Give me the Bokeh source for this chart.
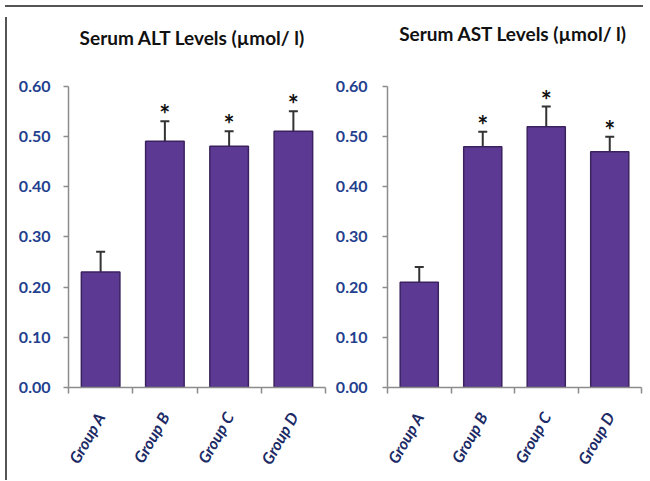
import math
from bokeh.plotting import figure
from bokeh.models import (ColumnDataSource, Range1d, LinearAxis, Div, Label,
                          FixedTicker, NumeralTickFormatter, Whisker, TeeHead)
from bokeh.layouts import row, column
from bokeh.embed import file_html
from bokeh.resources import INLINE
from bokeh.core.properties import value

groups = ["Group A", "Group B", "Group C", "Group D"]
alt_mean = [0.23, 0.49, 0.48, 0.51]
alt_err = [0.04, 0.04, 0.03, 0.04]
alt_sig = ["", "*", "*", "*"]
ast_mean = [0.21, 0.48, 0.52, 0.47]
ast_err = [0.03, 0.03, 0.04, 0.03]
ast_sig = ["", "*", "*", "*"]
y_ticks = [0.0, 0.1, 0.2, 0.3, 0.4, 0.5, 0.6]
titles = ["Serum ALT Levels (\u00b5mol/ l)", "Serum AST Levels (\u00b5mol/ l)"]

FONT = "Lato"
TICK_COLOR = "#23408E"
GROUP_COLOR = "#1C2A66"
AXIS_COLOR = "#8C8C8C"

x_pos = [i + 0.5 for i in range(len(groups))]
edges = list(range(len(groups) + 1))


def panel(title, mean, err, sig, width, height, mb_left, mb_right, mb_bottom,
          ytop, title_x, title_y, ystand):
    upper = [m + e for m, e in zip(mean, err)]
    src = ColumnDataSource(dict(x=x_pos, mean=mean, upper=upper, sig=sig))
    p = figure(width=width, height=height, output_backend="svg", toolbar_location=None,
               x_range=Range1d(0, len(groups)), y_range=Range1d(0, ytop),
               x_axis_location=None, y_axis_location=None,
               min_border_left=mb_left, min_border_right=mb_right,
               min_border_top=0, min_border_bottom=mb_bottom)
    p.outline_line_color = None
    p.grid.visible = False

    p.add_layout(Label(x=title_x, y=title_y, text=title, text_align="center",
                       text_baseline="middle", text_font=FONT, text_font_size="19px",
                       text_font_style="bold", text_color="#111111"))

    p.vbar(x="x", top="mean", width=0.6, source=src,
           fill_color="#5C3A93", line_color="#3B225F", line_width=1.5)
    w = Whisker(base="x", lower="mean", upper="upper", source=src, dimension="height",
                line_color="#333333", line_width=2,
                upper_head=TeeHead(size=9, line_color="#333333", line_width=2),
                lower_head=None)
    p.add_layout(w)
    p.text(x="x", y="upper", text="sig", source=src, text_align="center",
           text_baseline="middle", y_offset=-7, text_font=value(FONT),
           text_font_size="26px", text_font_style="bold", text_color="#111111")

    yaxis = LinearAxis(bounds=(0, 0.6), ticker=FixedTicker(ticks=y_ticks),
                       formatter=NumeralTickFormatter(format="0.00"),
                       axis_line_color=AXIS_COLOR, axis_line_width=1.5,
                       major_tick_line_color=AXIS_COLOR, major_tick_line_width=1.5,
                       major_tick_out=5, major_tick_in=0, minor_tick_line_color=None,
                       major_label_text_font=FONT, major_label_text_font_size="16px",
                       major_label_text_font_style="bold", major_label_text_color=TICK_COLOR,
                       major_label_standoff=ystand)
    p.add_layout(yaxis, "left")

    xaxis = LinearAxis(ticker=FixedTicker(ticks=x_pos, minor_ticks=edges),
                       major_label_overrides={x: g for x, g in zip(x_pos, groups)},
                       axis_line_color=AXIS_COLOR, axis_line_width=1.5,
                       major_tick_line_color=None, major_tick_out=0, major_tick_in=0,
                       minor_tick_line_color=AXIS_COLOR, minor_tick_line_width=1.5,
                       minor_tick_out=6, minor_tick_in=0,
                       major_label_orientation=1.05,
                       major_label_text_font=FONT, major_label_text_font_size="16px",
                       major_label_text_font_style="bold italic",
                       major_label_text_color=GROUP_COLOR,
                       major_label_standoff=20)
    p.add_layout(xaxis, "below")
    return p


H = 463
p1 = panel(titles[0], alt_mean, alt_err, alt_sig, 320, H, 56, 7, H - 377,
           0.7465, 1.93, 0.697, 13)
p2 = panel(titles[1], ast_mean, ast_err, ast_sig, 315, H, 51, 6, H - 380,
           0.7475, 1.98, 0.706, 15)

top_line = Div(width=638, height=2, styles={"background-color": "#555555"})
left_line = Div(width=2, height=H, styles={"background-color": "#555555"})
right_line = Div(width=1, height=H, styles={"background-color": "#DDDDDD"})

layout = column(top_line, row(left_line, p1, p2, right_line))

open("out.html", "w").write(file_html(layout, INLINE))
